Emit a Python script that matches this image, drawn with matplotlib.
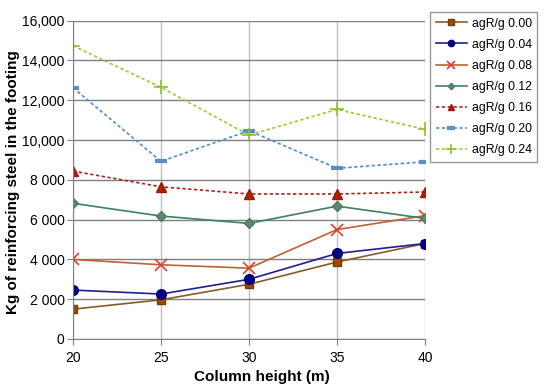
import matplotlib
matplotlib.use("Agg")
import matplotlib.pyplot as plt
from matplotlib.ticker import FixedLocator, FixedFormatter

plt.rcParams["font.family"] = ["Liberation Sans", "DejaVu Sans"]

heights = [20, 25, 30, 35, 40]
labels = ["agR/g 0.00", "agR/g 0.04", "agR/g 0.08", "agR/g 0.12",
          "agR/g 0.16", "agR/g 0.20", "agR/g 0.24"]
steel_000 = [1500, 1970, 2750, 3870, 4800]
steel_004 = [2460, 2260, 3000, 4300, 4800]
steel_008 = [4000, 3730, 3560, 5500, 6200]
steel_012 = [6820, 6180, 5810, 6680, 6060]
steel_016 = [8440, 7650, 7290, 7290, 7390]
steel_020 = [12630, 8930, 10470, 8580, 8910]
steel_024 = [14740, 12650, 10250, 11540, 10540]
ytick_vals = [0, 2000, 4000, 6000, 8000, 10000, 12000, 14000, 16000]
ytick_labels = ["0", "2 000", "4 000", "6 000", "8 000", "10,000", "12,000", "14,000", "16,000"]

styles = [
    dict(color="#8B5A2B", ls="-", marker="s", mfc="#994C00", mec="#7A3D00", ms=6),
    dict(color="#1F1F8F", ls="-", marker="o", mfc="#000080", mec="#000080", ms=7),
    dict(color="#C0603A", ls="-", marker="x", mfc="none", mec="#E0402A", ms=9, mew=1.2),
    dict(color="#3F8060", ls="-", marker="D", mfc="#5A8A6E", mec="#4F7A60", ms=5),
    dict(color="#B02020", ls=(0, (2, 1.5)), marker="^", mfc="#B01E00", mec="#A01800", ms=7),
    dict(color="#4A90D0", ls=(0, (2, 1.5)), marker="_", mfc="#4A8AC0", mec="#5B8FC0", ms=9, mew=3),
    dict(color="#9ACD32", ls=(0, (2, 1.5)), marker="+", mfc="#8FC030", mec="#8FC030", ms=10, mew=1.2),
]
series = [steel_000, steel_004, steel_008, steel_012, steel_016, steel_020, steel_024]

fig = plt.figure(figsize=(5.5, 3.92), dpi=100)
ax = fig.add_axes([73 / 550, 1 - 339 / 392, (425 - 73) / 550, (339 - 20.7) / 392])

for vals, lab, st in zip(series, labels, styles):
    ax.plot(heights, vals, lw=1.2, label=lab, **st)

ax.set_xlim(20, 40)
ax.set_ylim(0, 16000)
ax.set_xticks(heights)
ax.yaxis.set_major_locator(FixedLocator(ytick_vals))
ax.yaxis.set_major_formatter(FixedFormatter(ytick_labels))
ax.grid(True, axis="y", color="#808080", lw=1.0)
ax.grid(True, axis="x", color="#C0C0C0", lw=1.0)
ax.set_axisbelow(True)
for s in ["top", "right"]:
    ax.spines[s].set_visible(False)
for s in ["left", "bottom"]:
    ax.spines[s].set_color("#808080")
ax.tick_params(axis="both", labelsize=10, length=4, color="#808080")
ax.tick_params(axis="y", pad=2)
ax.tick_params(axis="x", pad=5)

# axis titles placed in figure pixels, as in the original figure
fig.text(262 / 550, 1 - 377 / 392, "Column height (m)", fontsize=11, fontweight="bold",
         ha="center", va="center")
fig.text(13 / 550, 1 - 182 / 392, "Kg of reinforcing steel in the footing", fontsize=11,
         fontweight="bold", rotation=90, ha="center", va="center")

leg = fig.legend(loc="upper left", bbox_to_anchor=(430 / 550, 1 - 12 / 392),
                 fontsize=8.8, frameon=True, fancybox=False, handlelength=2.6,
                 labelspacing=0.75, borderpad=0.45, handletextpad=0.35,
                 borderaxespad=0, markerscale=0.65)
leg.get_frame().set_edgecolor("#808080")
leg.get_frame().set_linewidth(1.0)

fig.savefig("out.png", dpi=100)
